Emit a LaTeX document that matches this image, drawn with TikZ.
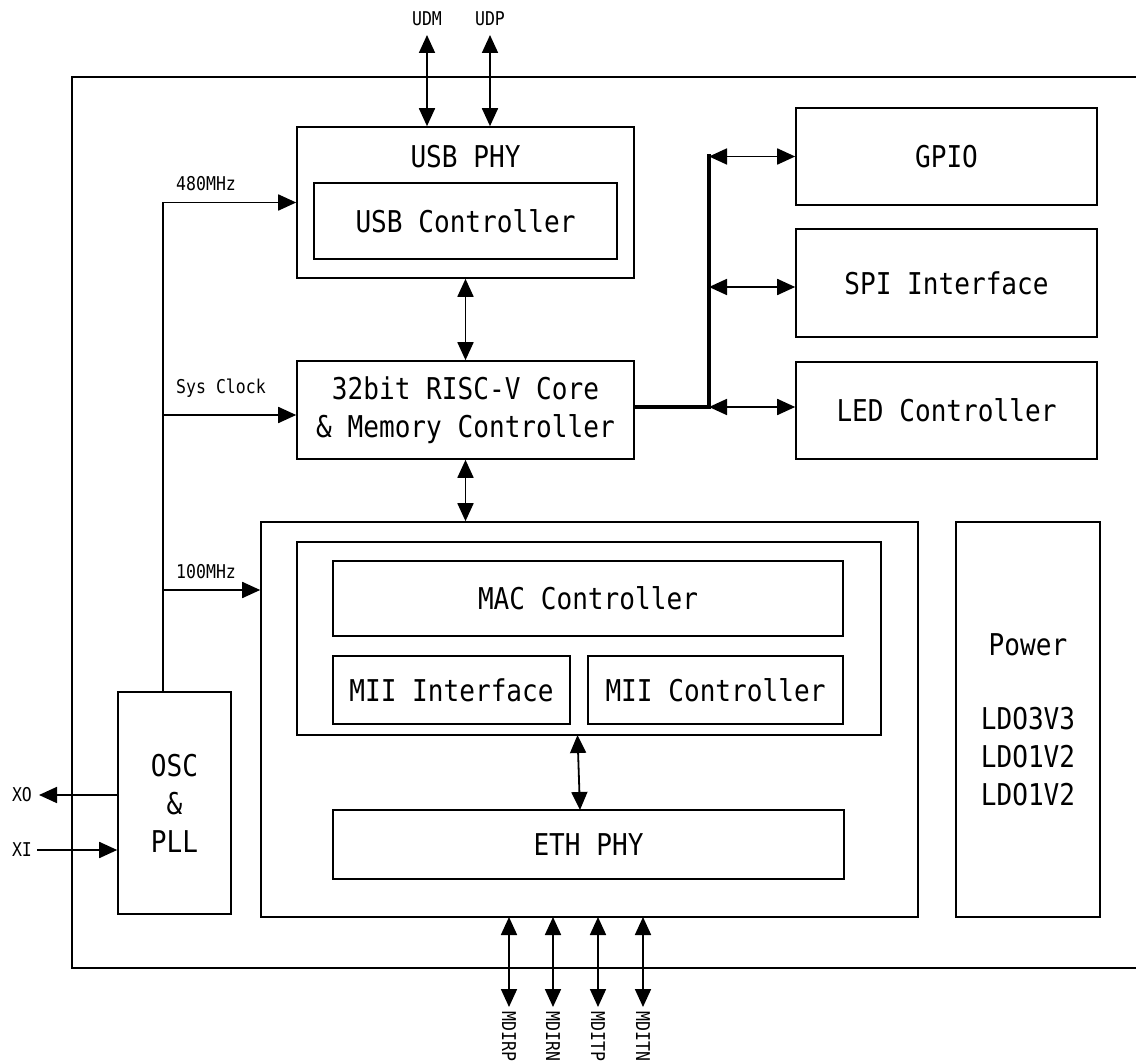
\documentclass[tikz,border=0pt]{standalone}
\usepackage{fontspec}
\setmainfont[FakeStretch=0.87]{DejaVu Sans Mono}
\usetikzlibrary{arrows.meta}
\begin{document}
\begin{tikzpicture}[x=1pt,y=-1pt,
  blk/.style={draw,line width=1.6pt,inner sep=0pt,anchor=center},
  big/.style={font=\fontsize{30}{38}\selectfont},
  small/.style={font=\fontsize{19}{22}\selectfont},
  tipa/.style={line width=1.8pt,-{Triangle[length=18pt,width=16pt]}},
  tipb/.style={line width=1.8pt,{Triangle[length=18pt,width=16pt]}-{Triangle[length=18pt,width=16pt]}},
  wire/.style={line width=1.8pt},
  bus/.style={line width=4pt}]
\useasboundingbox (0,0) rectangle (1136,1064);
% outer chip
\node[blk,minimum width=1078pt,minimum height=891pt] (outer) at (611,522.5) {};
% USB
\node[blk,minimum width=337pt,minimum height=151pt] (usbphy) at (465.5,202.5) {};
\node[big] (usbphyt) at (465.5,157) {USB PHY};
\node[blk,big,minimum width=303pt,minimum height=76pt] (usbctl) at (465.5,221) {USB Controller};
% core
\node[blk,big,align=center,minimum width=337pt,minimum height=98pt] (core) at (465.5,410) {32bit RISC-V Core\\\& Memory Controller};
% ethernet block
\node[blk,minimum width=657pt,minimum height=395pt] (ethblk) at (589.5,719.5) {};
\node[blk,minimum width=584pt,minimum height=193pt] (inner) at (589,638.5) {};
\node[blk,big,minimum width=510pt,minimum height=75pt] (mac) at (588,598.5) {MAC Controller};
\node[blk,big,minimum width=237pt,minimum height=68pt] (miiif) at (451.5,690) {MII Interface};
\node[blk,big,minimum width=255pt,minimum height=68pt] (miictl) at (715.5,690) {MII Controller};
\node[blk,big,minimum width=511pt,minimum height=69pt] (ethphy) at (588.5,844.5) {ETH PHY};
% power
\node[blk,minimum width=144pt,minimum height=395pt] (power) at (1028,719.5) {};
\node[big] (powert) at (1028,645) {Power};
\node[big,align=center] (ldo) at (1028,757) {LDO3V3\\LDO1V2\\LDO1V2};
% peripherals
\node[blk,big,minimum width=301pt,minimum height=97pt] (gpio) at (946.5,156.5) {GPIO};
\node[blk,big,minimum width=301pt,minimum height=108pt] (spi) at (946.5,283) {SPI Interface};
\node[blk,big,minimum width=301pt,minimum height=97pt] (led) at (946.5,410.5) {LED Controller};
% osc
\node[blk,big,align=center,minimum width=113pt,minimum height=222pt] (osc) at (174.5,803) {OSC\\\&\\PLL};
% labels
\node[small] (udm) at (427,19) {UDM};
\node[small] (udp) at (490,19) {UDP};
\node[small,anchor=west,inner sep=0pt] (f480) at (176,184) {480MHz};
\node[small,anchor=west,inner sep=0pt] (fsys) at (176,388) {Sys Clock};
\node[small,anchor=west,inner sep=0pt] (f100) at (176,572) {100MHz};
\node[small] (xo) at (22,795) {XO};
\node[small] (xi) at (22,850) {XI};
\foreach \n/\x in {rp/509,rn/553,tp/598,tn/643}{
  \coordinate (mdt\n) at (\x,917);
  \coordinate (mdb\n) at (\x,1007);
}
\node[small,rotate=-90,anchor=west,inner sep=0pt] (lrp) at (509,1011) {MDIRP};
\node[small,rotate=-90,anchor=west,inner sep=0pt] (lrn) at (553,1011) {MDIRN};
\node[small,rotate=-90,anchor=west,inner sep=0pt] (ltp) at (598,1011) {MDITP};
\node[small,rotate=-90,anchor=west,inner sep=0pt] (ltn) at (643,1011) {MDITN};
% coordinates
\coordinate (udmt) at (427,35);
\coordinate (udpt) at (490,35);
\coordinate (ck480) at (163,202.5);
\coordinate (cksys) at (163,415);
\coordinate (ck100) at (163,590);
\coordinate (ckbot) at (163,692);
\coordinate (busc) at (709,407);
\coordinate (bus1) at (709,156.5);
\coordinate (bus2) at (709,287);
\coordinate (m1) at (577.5,735);
\coordinate (m2) at (580,810);
\coordinate (xoend) at (39,795);
\coordinate (xistart) at (37,850);
% USB pins
\draw[tipb] (udmt) -- (udmt |- usbphy.north);
\draw[tipb] (udpt) -- (udpt |- usbphy.north);
% internal buses
\draw[tipb] (usbphy.south) -- (core.north);
\draw[tipb] (core.south) -- (core.south |- ethblk.north);
\draw[tipb] (m1) -- (m2);
% clock tree
\draw[wire] (ckbot) -- (ck480);
\draw[tipa] (ck480) -- (usbphy.west);
\draw[tipa] (cksys) -- (cksys -| core.west);
\draw[tipa] (ck100) -- (ck100 -| ethblk.west);
% xtal
\draw[tipa] (xoend -| osc.west) -- (xoend);
\draw[tipa] (xistart) -- (xistart -| osc.west);
% peripheral bus
\draw[bus] (busc -| core.east) -- (busc);
\draw[bus,line cap=rect] (busc) -- (bus1);
\draw[tipb] (bus1) -- (gpio.west);
\draw[tipb] (bus2) -- (bus2 -| spi.west);
\draw[tipb] (busc) -- (busc -| led.west);
% MDI pins
\foreach \n in {rp,rn,tp,tn}{
  \draw[tipb] (mdt\n) -- (mdb\n);
}
\end{tikzpicture}
\end{document}
